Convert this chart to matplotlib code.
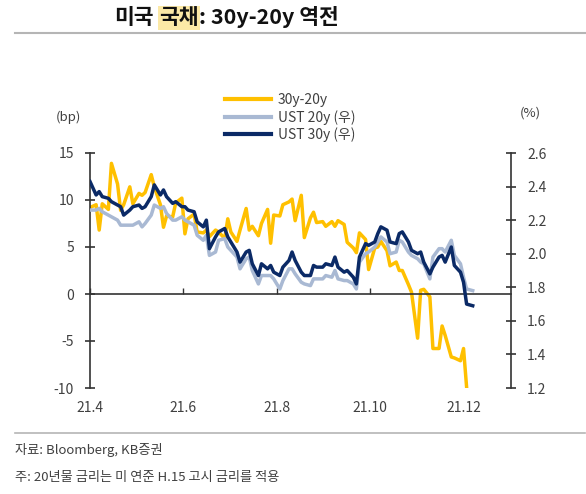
import numpy as np
import pandas as pd
import matplotlib
matplotlib.use('Agg')
import matplotlib.pyplot as plt
from matplotlib.lines import Line2D

plt.rcParams['font.family'] = ['Noto Sans CJK KR', 'DejaVu Sans']
plt.rcParams['axes.unicode_minus'] = False

# Data, one value every 2nd business day from 2021-04-01
spread = [9.2, 9.5, 6.8, 9.6, 9.0, 13.9, 11.7, 8.9, 9.5, 11.4,
          9.6, 10.7, 10.5, 10.8, 12.7, 11.4, 9.5, 7.1, 8.3, 8.2,
          9.7, 10.2, 6.4, 8.0, 8.5, 6.6, 6.5, 6.8, 6.1, 6.8,
          6.6, 5.9, 8.0, 6.6, 5.6, 6.8, 9.1, 6.8, 7.2, 6.2,
          7.5, 9.0, 5.4, 8.4, 8.3, 9.5, 9.8, 10.1, 7.8, 10.5,
          6.0, 8.1, 8.7, 7.6, 7.7, 7.2, 7.7, 7.2, 7.8, 7.4,
          5.5, 4.9, 4.4, 6.5, 5.8, 2.6, 4.9, 5.0, 5.6, 4.6,
          3.0, 3.4, 2.5, 2.5, 1.0, 0.2, -4.7, 0.4, 0.5, -0.3,
          -5.8, -5.8, -3.4, -4.4, -6.7, -6.8, -7.1, -5.8, -9.9, np.nan]
ust20 = [2.26, 2.26, 2.27, 2.25, 2.23, 2.22, 2.20, 2.17, 2.17, 2.17,
         2.17, 2.19, 2.16, 2.18, 2.23, 2.29, 2.27, 2.28, 2.24, 2.20,
         2.20, 2.22, 2.20, 2.19, 2.17, 2.11, 2.08, 2.11, 1.99, 2.01,
         2.08, 2.09, 2.04, 2.02, 1.98, 1.91, 1.97, 1.98, 1.90, 1.82,
         1.87, 1.87, 1.87, 1.85, 1.79, 1.84, 1.91, 1.91, 1.88, 1.83,
         1.82, 1.81, 1.85, 1.85, 1.85, 1.87, 1.86, 1.90, 1.85, 1.84,
         1.84, 1.82, 1.79, 1.95, 2.00, 2.01, 2.04, 2.07, 2.10, 2.07,
         2.00, 2.01, 2.08, 2.07, 2.01, 1.99, 1.97, 1.95, 1.94, 1.85,
         1.98, 2.03, 2.03, 2.01, 2.08, 1.99, 1.94, 1.86, 1.79, 1.78]
ust30 = [2.43, 2.35, 2.37, 2.34, 2.33, 2.31, 2.29, 2.28, 2.23, 2.26,
         2.28, 2.29, 2.27, 2.28, 2.34, 2.41, 2.35, 2.38, 2.34, 2.30,
         2.31, 2.28, 2.28, 2.26, 2.25, 2.19, 2.16, 2.20, 2.03, 2.10,
         2.13, 2.15, 2.10, 2.07, 2.01, 1.95, 2.01, 2.02, 1.94, 1.87,
         1.94, 1.91, 1.93, 1.89, 1.87, 1.92, 1.96, 2.01, 1.96, 1.89,
         1.87, 1.87, 1.93, 1.92, 1.92, 1.94, 1.93, 1.98, 1.92, 1.89,
         1.90, 1.86, 1.82, 1.98, 2.06, 2.05, 2.07, 2.12, 2.16, 2.14,
         2.07, 2.06, 2.12, 2.13, 2.07, 2.02, 2.00, 2.01, 1.95, 1.88,
         1.92, 1.98, 1.99, 1.95, 2.04, 1.93, 1.89, 1.83, 1.70, 1.69]
dates = pd.date_range('2021-04-01', periods=len(spread), freq='2B')

xtick_dates = pd.to_datetime(['2021-04-01', '2021-06-01', '2021-08-01',
                              '2021-10-01', '2021-12-01'])
xtick_labels = ['21.4', '21.6', '21.8', '21.10', '21.12']
left_ticks = [-10, -5, 0, 5, 10, 15]
right_ticks = [1.2, 1.4, 1.6, 1.8, 2.0, 2.2, 2.4, 2.6]

c_spread = '#FFC000'
c_20y = '#A9B9D3'
c_30y = '#0B2A66'
c_axis = '#333333'
c_text = '#404040'

fig = plt.figure(figsize=(5.86, 4.94), dpi=100)
ax = fig.add_axes([90/586, 1 - 388/494, 421/586, 235/494])
ax2 = ax.twinx()

ax.plot(dates, spread, color=c_spread, lw=2.5)
ax2.plot(dates, ust20, color=c_20y, lw=2.5)
ax2.plot(dates, ust30, color=c_30y, lw=2.5)

ax.set_xlim(pd.Timestamp('2021-04-01'), pd.Timestamp('2022-01-01'))
ax.set_ylim(-10, 15)
ax2.set_ylim(1.2, 2.6)

for a in (ax, ax2):
    a.spines['top'].set_visible(False)
ax2.spines['bottom'].set_visible(False)
ax2.spines['left'].set_visible(False)
ax.spines['right'].set_visible(False)
ax.spines['bottom'].set_position(('data', 0))
ax.spines['bottom'].set_color(c_axis)
ax.spines['bottom'].set_linewidth(1.2)
ax.spines['left'].set_color(c_axis)
ax.spines['left'].set_linewidth(1.2)
ax2.spines['right'].set_color(c_axis)
ax2.spines['right'].set_linewidth(1.2)

ax.set_xticks(xtick_dates)
ax.set_xticklabels(xtick_labels)
ax.tick_params(axis='x', direction='in', length=4, width=1, color=c_axis,
               labelcolor=c_text, labelsize=10, pad=77)
ax.set_yticks(left_ticks)
ax.tick_params(axis='y', direction='inout', length=7, width=1.2, color=c_axis,
               labelcolor=c_text, labelsize=10, pad=8)
ax2.set_yticks(right_ticks)
ax2.set_yticklabels(['%.1f' % v for v in right_ticks])
ax2.tick_params(axis='y', direction='inout', length=7, width=1.2, color=c_axis,
                labelcolor=c_text, labelsize=10, pad=8)

fig.text(68/586, 1 - 117/494, '(bp)', ha='center', va='center',
         fontsize=9.5, color=c_text)
fig.text(530/586, 1 - 113/494, '(%)', ha='center', va='center',
         fontsize=9.5, color=c_text)

handles = [Line2D([], [], color=c_spread, lw=3),
           Line2D([], [], color=c_20y, lw=3),
           Line2D([], [], color=c_30y, lw=3)]
fig.legend(handles, ['30y-20y', 'UST 20y (우)', 'UST 30y (우)'],
           loc='upper left', bbox_to_anchor=(225/586, 1 - 93/494),
           frameon=False, fontsize=10, handlelength=3.3, handletextpad=0.5,
           labelspacing=0.2, borderpad=0, borderaxespad=0,
           labelcolor=c_text)

# title with highlighted word
t1 = fig.text(114/586, 1 - 18/494, '미국', fontsize=15.5, weight='bold',
              va='center', color='#111111')
t2 = ax.annotate('국채', xy=(1, 0), xycoords=t1, xytext=(4, 0),
                 textcoords='offset points', va='bottom', ha='left',
                 fontsize=15.5, weight='bold', color='#111111',
                 bbox=dict(boxstyle='square,pad=0.05', fc='#FCE9A6', ec='none'),
                 annotation_clip=False)
ax.annotate(': 30y-20y 역전', xy=(1, 0), xycoords=t2, va='bottom', ha='left',
            fontsize=15.5, weight='bold', color='#111111', annotation_clip=False)

fig.add_artist(Line2D([15/586, 585/586], [1 - 33/494] * 2,
                      transform=fig.transFigure, color='#B5B5B5', lw=1.5))
fig.add_artist(Line2D([15/586, 585/586], [1 - 433/494] * 2,
                      transform=fig.transFigure, color='#B5B5B5', lw=1.2))

fig.text(15/586, 1 - 450/494, '자료: Bloomberg, KB증권', va='center',
         fontsize=9.5, color=c_text)
fig.text(15/586, 1 - 477/494, '주: 20년물 금리는 미 연준 H.15 고시 금리를 적용',
         va='center', fontsize=9.5, color=c_text)

fig.savefig('out.png', dpi=100)
